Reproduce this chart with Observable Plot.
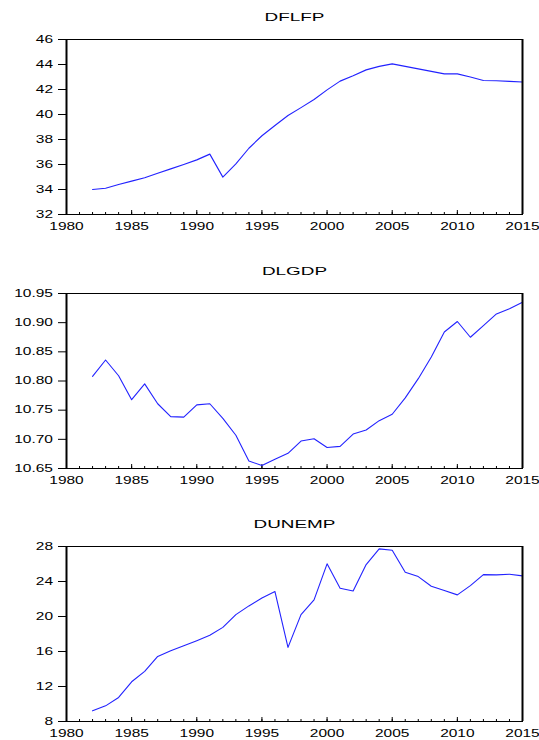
<!DOCTYPE html>
<html>
<head>
<meta charset="utf-8">
<script src="https://cdn.jsdelivr.net/npm/d3@7"></script>
<script src="https://cdn.jsdelivr.net/npm/@observablehq/plot@0.6"></script>
<style>
  html, body { margin: 0; padding: 0; background: #fff; overflow: hidden; }
  #chart svg { display: block; }
</style>
</head>
<body>
<div id="chart"></div>
<script>
const years = d3.range(1982, 2016);
const dflfp = [34.0, 34.1, 34.4, 34.67, 34.94, 35.3, 35.65, 36.0, 36.37, 36.83,
  34.99, 36.05, 37.3, 38.3, 39.12, 39.92, 40.55, 41.2, 41.97, 42.67,
  43.1, 43.57, 43.85, 44.05, 43.85, 43.65, 43.45, 43.25, 43.25, 43.0,
  42.72, 42.7, 42.65, 42.6];
const dlgdp = [10.808, 10.836, 10.809, 10.768, 10.795, 10.761, 10.739, 10.738, 10.759, 10.761,
  10.736, 10.707, 10.663, 10.655, 10.666, 10.676, 10.697, 10.701, 10.686, 10.688,
  10.709, 10.716, 10.732, 10.743, 10.771, 10.804, 10.841, 10.884, 10.902, 10.875,
  10.895, 10.915, 10.924, 10.935];
const dunemp = [9.22, 9.79, 10.75, 12.54, 13.73, 15.44, 16.09, 16.66, 17.24, 17.85,
  18.76, 20.21, 21.21, 22.12, 22.85, 16.47, 20.21, 21.9, 26.02, 23.23,
  22.92, 25.94, 27.73, 27.58, 25.06, 24.56, 23.46, 22.96, 22.47, 23.53,
  24.79, 24.76, 24.83, 24.64];

const xMajor = [1980, 1985, 1990, 1995, 2000, 2005, 2010, 2015];
const xMinor = d3.range(1980, 2016);
const ticks1 = [32, 34, 36, 38, 40, 42, 44, 46];
const ticks2 = [10.65, 10.70, 10.75, 10.80, 10.85, 10.90, 10.95];
const ticks3 = [8, 12, 16, 20, 24, 28];

const panels = [
  {title: "DFLFP", values: dflfp, domain: [32, 46], ticks: ticks1, fmt: d => String(d), mt: 39, mb: 26},
  {title: "DLGDP", values: dlgdp, domain: [10.65, 10.95], ticks: ticks2, fmt: d => d.toFixed(2), mt: 53, mb: 22},
  {title: "DUNEMP", values: dunemp, domain: [8, 28], ticks: ticks3, fmt: d => String(d), mt: 56, mb: 19}
];

const frameH = 175;
const host = document.getElementById("chart");

for (const p of panels) {
  const data = years.map((year, i) => ({year, value: p.values[i]}));
  const chart = Plot.plot({
    width: 539,
    height: p.mt + frameH + p.mb,
    marginLeft: 66,
    marginRight: 17,
    marginTop: p.mt,
    marginBottom: p.mb,
    style: {fontFamily: "'Liberation Sans', Arial, sans-serif", fontSize: "10px", color: "black", background: "white", overflow: "visible"},
    x: {domain: [1980, 2015]},
    y: {domain: p.domain},
    marks: [
      Plot.tickX(xMinor, {x: d => d, insetTop: frameH - 2, stroke: "black"}),
      Plot.tickX(xMajor, {x: d => d, insetTop: frameH - 4, stroke: "black"}),
      Plot.axisX({ticks: xMajor, tickSize: 0, tickPadding: 8, tickFormat: d => String(d), label: null, fill: "black", className: "wide"}),
      Plot.axisY({ticks: p.ticks, tickSize: 8, tickPadding: 5.5, tickFormat: p.fmt, label: null, fill: "black", stroke: "black", className: "wide"}),
      Plot.line(data, {x: "year", y: "value", stroke: "#2222ff", strokeWidth: 1.1}),
      Plot.frame({stroke: "black", strokeWidth: 1}),
      Plot.ruleX([1980, 2015], {stroke: "black", strokeWidth: 2}),
      Plot.text([p.title], {frameAnchor: "top", dy: -22, text: d => d, fontSize: 11, fill: "black", lineAnchor: "middle", className: "ttl"})
    ]
  });
  host.appendChild(chart);
}

// widen glyphs horizontally around each text's anchor point (the reference font is stretched)
function widen(sel, s) {
  document.querySelectorAll(sel).forEach(t => {
    const tr = t.getAttribute("transform") || "";
    t.setAttribute("transform", (tr + ` scale(${s},1)`).trim());
  });
}
widen("#chart svg .wide text", 1.55);
widen("#chart svg .ttl text", 1.72);
</script>
</body>
</html>
